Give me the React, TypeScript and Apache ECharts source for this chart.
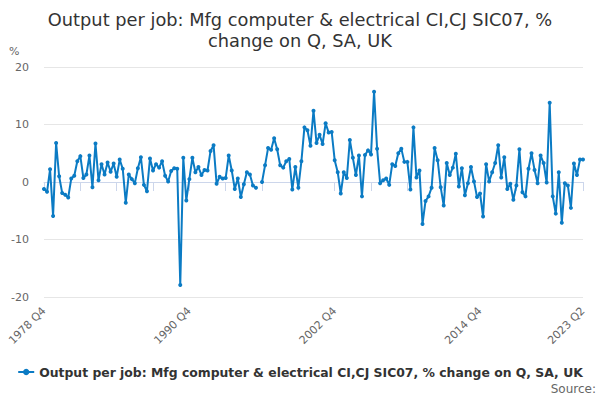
import React, { useEffect, useRef } from "react";
import * as echarts from "echarts";

const startYear = 1978;
const startQuarter = 4;

const values: (number | null)[] = [
  -1.2, -1.7, 2.2, -5.9, 6.8, 1.0, -1.9, -2.2, -2.7, 0.6,
  1.1, 3.6, 4.5, 0.7, 1.3, 4.6, -0.9, 6.7, 0.3, 3.1,
  1.3, 3.4, 1.8, 3.2, 0.9, 3.9, 2.3, -3.6, 1.3, 0.5,
  -0.2, 2.4, 4.3, -0.5, -1.6, 4.1, 2.0, 3.1, 2.5, 3.6,
  1.1, 0.1, 1.9, 2.4, 2.3, -17.9, 4.2, -3.2, 0.5, 4.2,
  1.7, 2.6, 1.2, 2.1, 2.0, 5.4, 6.4, -0.3, 0.9, 0.6,
  0.7, 4.6, 2.0, -1.2, 0.6, -2.6, -0.4, 1.7, 1.3, -0.6,
  -1.0, null, 0.0, 2.9, 5.9, 5.6, 7.6, 5.7, 2.9, 2.5,
  3.6, 4.0, -1.3, 2.6, -1.0, 3.6, 9.5, 9.0, 6.3, 12.4,
  6.8, 8.2, 6.6, 10.2, 8.6, 8.7, 3.8, 1.7, -2.0, 1.7,
  0.7, 7.3, 4.2, 1.2, 4.6, -2.5, 4.7, 5.5, 4.8, 15.7,
  5.8, -0.2, 0.3, 0.6, -0.5, 3.1, 2.8, 5.0, 5.8, 3.5,
  3.5, -1.3, 9.5, 0.8, 2.0, -7.3, -3.3, -2.5, -1.0, 5.9,
  3.8, -0.9, -4.1, 3.3, 1.2, 2.5, 4.9, -0.8, 2.4, -2.3,
  -0.2, 2.6, 0.1, -2.6, -2.0, -6.0, 3.1, 0.1, 1.7, 3.3,
  6.4, 0.8, 4.3, -1.2, -0.3, -3.1, -0.6, 5.7, -1.8, -2.5,
  2.3, 5.0, 2.1, -0.2, 4.6, 3.3, -0.1, 13.8, -2.5, -5.5,
  1.7, -7.1, -0.2, -0.6, -4.5, 3.2, 1.2, 3.9, 3.9,
];

const categories: string[] = values.map((_, i) => {
  const q0 = startQuarter - 1 + i;
  return `${startYear + Math.floor(q0 / 4)} Q${(q0 % 4) + 1}`;
});

const tickLabels = ["1978 Q4", "1990 Q4", "2002 Q4", "2014 Q4", "2023 Q2"];
const yTicks = { min: -20, max: 20, interval: 10 };

const seriesName =
  "Output per job: Mfg computer & electrical CI,CJ SIC07, % change on Q, SA, UK";
const titleText =
  "Output per job: Mfg computer & electrical CI,CJ SIC07, %\nchange on Q, SA, UK";

const FONT = "DejaVu Sans";
const BLUE = "#0b7bc4";

export default function App() {
  const ref = useRef<HTMLDivElement>(null);
  useEffect(() => {
    if (!ref.current) return;
    document.body.style.margin = "0";
    const chart = echarts.init(ref.current, null, { renderer: "svg" });
    const last = categories.length - 1;
    chart.setOption({
      animation: false,
      title: {
        text: titleText,
        left: "center",
        top: 4,
        textStyle: {
          fontFamily: FONT,
          fontSize: 17.8,
          fontWeight: "normal",
          color: "#333333",
          lineHeight: 21,
        },
      },
      grid: { left: 44, right: 17, top: 67, bottom: 103, containLabel: false },
      legend: {
        top: 361,
        left: "center",
        itemWidth: 16,
        itemHeight: 8,
        itemGap: 5,
        textStyle: {
          fontFamily: FONT,
          fontSize: 12.4,
          fontWeight: "bold",
          color: "#333333",
        },
        data: [seriesName],
      },
      xAxis: {
        type: "category",
        data: categories,
        boundaryGap: false,
        axisLine: { lineStyle: { color: "#ccd6eb" } },
        axisTick: {
          show: true,
          length: 9,
          lineStyle: { color: "#ccd6eb" },
          interval: (i: number) => i % 12 === 0 || i === last,
        },
        axisLabel: {
          interval: (_i: number, v: string) => tickLabels.includes(v),
          rotate: 45,
          fontFamily: FONT,
          fontSize: 11,
          color: "#666666",
          margin: 12,
        },
        splitLine: { show: false },
      },
      yAxis: {
        type: "value",
        min: yTicks.min,
        max: yTicks.max,
        interval: yTicks.interval,
        axisLine: { show: false },
        axisTick: { show: false },
        axisLabel: {
          fontFamily: FONT,
          fontSize: 11,
          color: "#666666",
          margin: 15,
        },
        splitLine: { lineStyle: { color: "#e6e6e6" } },
      },
      graphic: [
        {
          type: "text",
          left: 9,
          top: 46,
          style: {
            text: "%",
            fontFamily: FONT,
            fontSize: 11,
            fill: "#666666",
          },
        },
        {
          type: "text",
          right: 4,
          top: 383,
          style: {
            text: "Source:",
            fontFamily: FONT,
            fontSize: 12,
            fill: "#666666",
          },
        },
      ],
      series: [
        {
          name: seriesName,
          type: "line",
          data: values,
          connectNulls: false,
          symbol: "circle",
          symbolSize: 4,
          showSymbol: true,
          showAllSymbol: true,
          lineStyle: { color: BLUE, width: 2 },
          itemStyle: { color: BLUE },
        },
      ],
    });
    return () => chart.dispose();
  }, []);
  return (
    <div
      ref={ref}
      style={{ position: "absolute", left: 0, top: 0, width: 600, height: 400 }}
    />
  );
}
